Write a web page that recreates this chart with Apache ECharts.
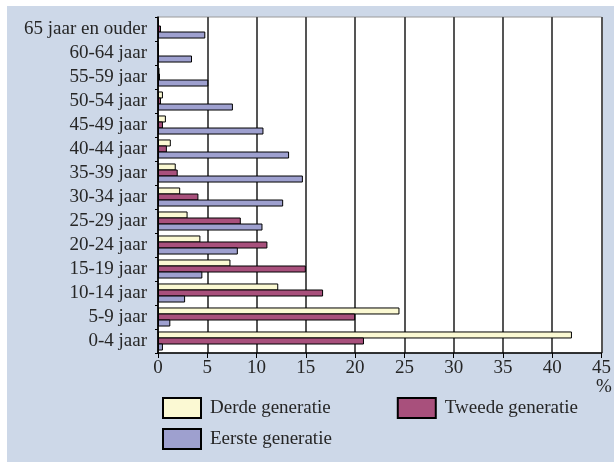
<!DOCTYPE html>
<html>
<head>
<meta charset="utf-8">
<script src="https://cdn.jsdelivr.net/npm/echarts@6/dist/echarts.min.js"></script>
<style>
  body { margin: 0; background: #fff; }
  #bg { position: absolute; left: 7px; top: 6px; width: 607px; height: 456px; background: #cdd8e8; }
  #main { position: absolute; left: 0; top: 0; width: 614px; height: 462px; }
</style>
</head>
<body>
<div id="bg"></div>
<div id="main"></div>
<script>
// leeftijdsklassen, van onder naar boven
const ageGroups = ['0-4 jaar', '5-9 jaar', '10-14 jaar', '15-19 jaar', '20-24 jaar', '25-29 jaar',
    '30-34 jaar', '35-39 jaar', '40-44 jaar', '45-49 jaar', '50-54 jaar', '55-59 jaar',
    '60-64 jaar', '65 jaar en ouder'];

const derde = [42.0, 24.5, 12.2, 7.35, 4.3, 3.0, 2.25, 1.8, 1.3, 0.8, 0.5, 0.15, 0.05, 0.1];
const tweede = [20.9, 20.0, 16.75, 15.0, 11.1, 8.4, 4.1, 2.0, 0.9, 0.5, 0.3, 0.2, 0.1, 0.3];
const eerste = [0.5, 1.25, 2.75, 4.5, 8.1, 10.6, 12.7, 14.7, 13.3, 10.7, 7.6, 5.1, 3.45, 4.8];

const font = 'Liberation Serif';
const textColor = '#262626';

const myChart = echarts.init(document.getElementById('main'));

const bar = function (name, data, color) {
    return {
        name: name,
        type: 'bar',
        data: data,
        barWidth: 7,
        barGap: '-14%',
        itemStyle: { color: color, borderColor: '#000', borderWidth: 1 }
    };
};

const legendText = { fontFamily: font, fontSize: 19, color: textColor, padding: [8, 0, 0, 4] };

let option = {
    animation: false,
    textStyle: { fontFamily: font, color: textColor },
    grid: {
        left: 158, right: 11, top: 17, bottom: 109,
        show: true, backgroundColor: '#fff', borderColor: '#9a9a9a', borderWidth: 1
    },
    xAxis: {
        type: 'value',
        min: 0, max: 45, interval: 5,
        axisLine: { show: true, lineStyle: { color: '#000', width: 1.5 } },
        axisTick: { show: true, length: 5, lineStyle: { color: '#000' } },
        axisLabel: { fontFamily: font, fontSize: 19, color: textColor, margin: 6 },
        splitLine: { show: true, lineStyle: { color: '#555', width: 2 } }
    },
    yAxis: {
        type: 'category',
        data: ageGroups,
        axisLine: { show: true, lineStyle: { color: '#000', width: 1.5 } },
        axisTick: { show: true, length: 3, lineStyle: { color: '#000' } },
        axisLabel: { interval: 0, fontFamily: font, fontSize: 19, color: textColor, margin: 11 }
    },
    legend: [
        {
            data: ['Derde generatie', 'Tweede generatie'],
            left: 162, top: 397, padding: 0,
            itemWidth: 38, itemHeight: 20, itemGap: 66,
            icon: 'rect',
            textStyle: legendText
        },
        {
            data: ['Eerste generatie'],
            left: 162, top: 428, padding: 0,
            itemWidth: 38, itemHeight: 20,
            icon: 'rect',
            textStyle: legendText
        }
    ],
    graphic: [
        {
            type: 'text',
            left: 596, top: 378,
            style: { text: '%', font: '19px "Liberation Serif"', fill: textColor }
        }
    ],
    series: [
        bar('Derde generatie', derde, '#fbf9d3'),
        bar('Tweede generatie', tweede, '#a8507c'),
        bar('Eerste generatie', eerste, '#9ea0cf')
    ]
};

option && myChart.setOption(option);
</script>
</body>
</html>
